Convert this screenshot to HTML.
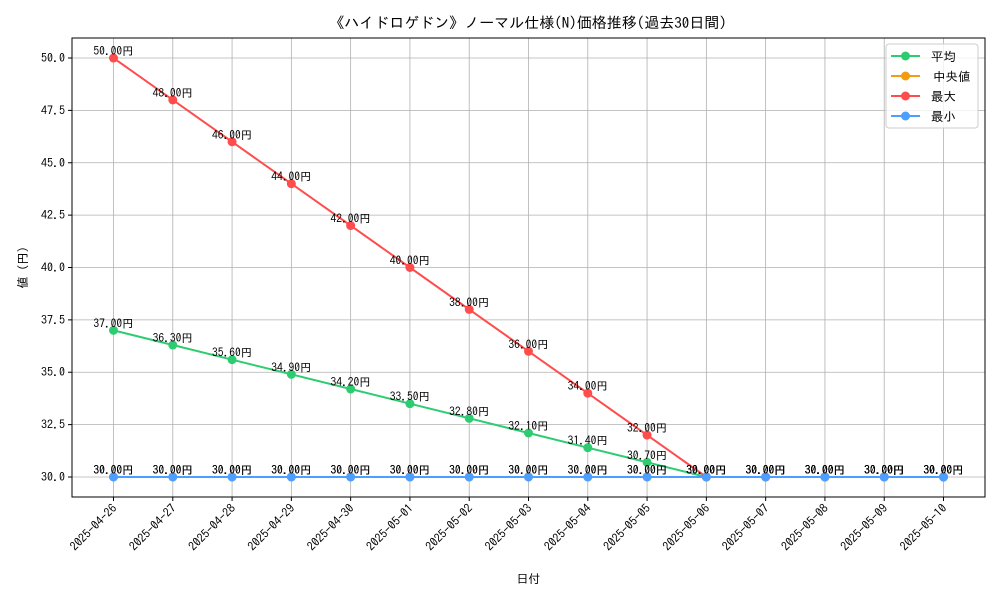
<!DOCTYPE html>
<html><head><meta charset="utf-8"><style>
body{margin:0;background:#fff}
svg{font-family:"IPAGothic","Liberation Sans","Noto Sans CJK JP",sans-serif}
</style></head><body>
<svg id="c" width="1000" height="600" xmlns="http://www.w3.org/2000/svg"></svg>
<script>
const categories=["2025-04-26","2025-04-27","2025-04-28","2025-04-29","2025-04-30","2025-05-01","2025-05-02","2025-05-03","2025-05-04","2025-05-05","2025-05-06","2025-05-07","2025-05-08","2025-05-09","2025-05-10"];
const avgValues=[37,36.3,35.6,34.9,34.2,33.5,32.8,32.1,31.4,30.7,30,30,30,30,30];
const medianValues=[30,30,30,30,30,30,30,30,30,30,30,30,30,30,30];
const maxValues=[50,48,46,44,42,40,38,36,34,32,30,30,30,30,30];
const minValues=[30,30,30,30,30,30,30,30,30,30,30,30,30,30,30];
const yTicks=[30,32.5,35,37.5,40,42.5,45,47.5,50];
const seriesNames=["平均","中央値","最大","最小"];
const seriesColors=["#2ecc71","#f39c12","#ff4d4d","#4d9fff"];
const NS="http://www.w3.org/2000/svg";
const svg=document.getElementById('c');
const L=72,R=985,T=38,B=497;
const x0=-0.7,x1=categories.length-1+0.7;
const y0=29.045,y1=50.955;
const X=i=>L+(i-x0)/(x1-x0)*(R-L);
const Y=v=>B-(v-y0)/(y1-y0)*(B-T);
function el(tag,attrs,parent){const e=document.createElementNS(NS,tag);for(const k in attrs)e.setAttribute(k,attrs[k]);(parent||svg).appendChild(e);return e;}
const title=el('text',{x:528,y:28,'text-anchor':'middle','font-size':15});


title.textContent='《ハイドロゲドン》ノーマル仕様(N)価格推移(過去30日間)';
const grid=el('g',{stroke:'#b0b0b0','stroke-width':0.8});


categories.forEach((c,i)=>{
  el('line',{x1:X(i),x2:X(i),y1:T,y2:B},grid);
  el('line',{x1:X(i),x2:X(i),y1:B,y2:B+4,stroke:'#000'});
  const t=el('text',{x:0,y:0,'text-anchor':'end','font-size':12,transform:`translate(${X(i)+4},${B+12}) rotate(-45)`});
  
  
  t.textContent=c;
});
yTicks.forEach(v=>{
  el('line',{x1:L,x2:R,y1:Y(v),y2:Y(v)},grid);
  el('line',{x1:L-4,x2:L,y1:Y(v),y2:Y(v),stroke:'#000'});
  const t=el('text',{x:L-7,y:Y(v)+4,'text-anchor':'end','font-size':12});
  
  
  t.textContent=v.toFixed(1);
});
const frame=el('rect',{x:L,y:T,width:R-L,height:B-T,fill:'none',stroke:'#000','stroke-width':1});


const xt=el('text',{x:(L+R)/2,y:583,'text-anchor':'middle','font-size':12});


xt.textContent='日付';
const yt=el('text',{x:0,y:0,'text-anchor':'middle','font-size':12,transform:`translate(27,${(T+B)/2}) rotate(-90)`});


yt.textContent='値 (円)';
const all=[avgValues,medianValues,maxValues,minValues];
all.forEach((vals,s)=>{
  const g=el('g',{});
  
  
  el('polyline',{points:vals.map((v,i)=>X(i)+','+Y(v)).join(' '),fill:'none',stroke:seriesColors[s],'stroke-width':2},g);
  vals.forEach((v,i)=>{
    const c=el('circle',{cx:X(i),cy:Y(v),r:4.5,fill:seriesColors[s]},g);
    
    
    const t=el('text',{x:X(i),y:Y(v)-3,'text-anchor':'middle','font-size':11.5},g);
    
    
    t.textContent=v.toFixed(2)+'円';
  });
});
const lg=el('g',{});


el('rect',{x:886,y:44,width:92,height:84,rx:3,fill:'#fff','fill-opacity':0.8,stroke:'#ccc'},lg);
seriesNames.forEach((n,s)=>{
  const y=56+s*20;
  const e=el('g',{},lg);
  
  
  el('line',{x1:891,x2:920,y1:y,y2:y,stroke:seriesColors[s],'stroke-width':2},e);
  el('circle',{cx:905.5,cy:y,r:4.5,fill:seriesColors[s]},e);
  const t=el('text',{x:s==1?933:931,y:y+5,'font-size':12.5},e);
  t.textContent=n;
});
</script>
</body></html>
